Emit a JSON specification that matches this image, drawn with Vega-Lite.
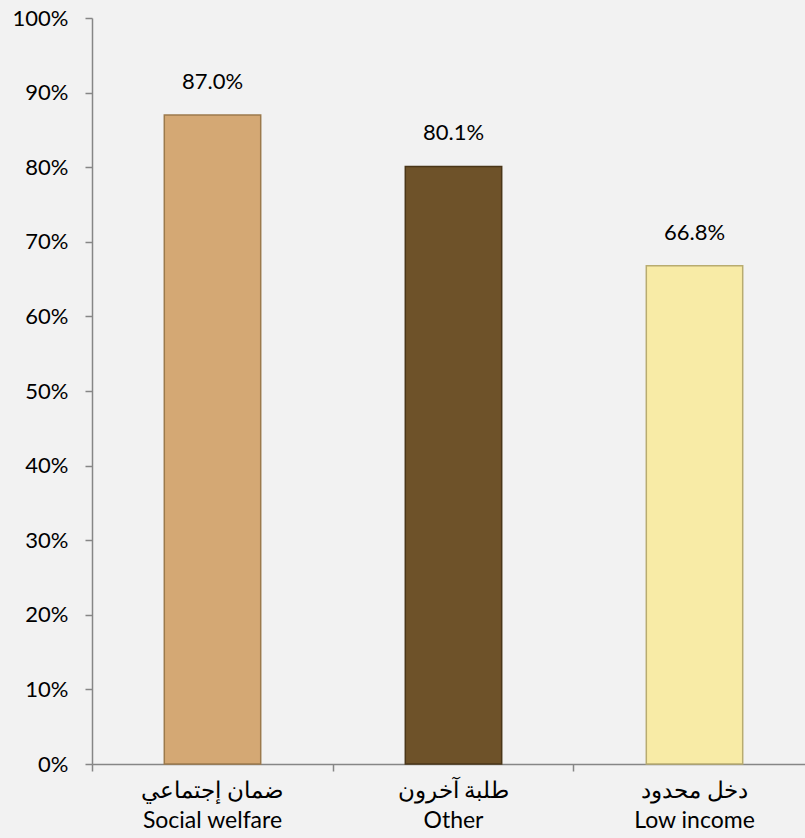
{
  "$schema": "https://vega.github.io/schema/vega-lite/v6.json",
  "autosize": "none",
  "padding": {"left": 92, "top": 18, "right": 0, "bottom": 74},
  "width": 723,
  "height": 746,
  "background": "#F2F2F2",
  "config": {
    "view": {"stroke": null},
    "font": "Lato"
  },
  "data": {
    "values": [
      {"category": "ضمان إجتماعي|Social welfare", "value": 0.87, "color": "#D4A874", "stroke": "#9C7A4C"},
      {"category": "طلبة آخرون|Other", "value": 0.801, "color": "#6E5229", "stroke": "#4A3618"},
      {"category": "دخل محدود|Low income", "value": 0.668, "color": "#F8EBA6", "stroke": "#B8AC70"}
    ]
  },
  "encoding": {
    "x": {
      "field": "category",
      "type": "nominal",
      "sort": null,
      "scale": {"paddingInner": 0.6, "paddingOuter": 0.3},
      "axis": {
        "title": null,
        "labelAngle": 0,
        "labelExpr": "split(datum.label, '|')",
        "labelFontSize": 23,
        "labelColor": "#000000",
        "labelLineHeight": 30,
        "labelPadding": 8,
        "labelFont": "Lato",
        "domainColor": "#868686",
        "tickColor": "#868686",
        "tickSize": 7,
        "bandPosition": -0.75,
        "domainWidth": 1.5,
        "tickWidth": 1.5
      }
    },
    "y": {
      "field": "value",
      "type": "quantitative",
      "scale": {"domain": [0, 1]},
      "axis": {
        "title": null,
        "values": [0, 0.1, 0.2, 0.3, 0.4, 0.5, 0.6, 0.7, 0.8, 0.9, 1],
        "format": ".0%",
        "grid": false,
        "labelFontSize": 22,
        "labelColor": "#000000",
        "labelPadding": 17,
        "domainColor": "#868686",
        "tickColor": "#868686",
        "tickSize": 7,
        "domainWidth": 1.5,
        "tickWidth": 1.5
      }
    }
  },
  "layer": [
    {
      "mark": {"type": "bar", "strokeWidth": 1.5},
      "encoding": {
        "color": {"field": "color", "type": "nominal", "scale": null},
        "stroke": {"field": "stroke", "type": "nominal", "scale": null}
      }
    },
    {
      "mark": {"type": "text", "dy": -33, "fontSize": 22, "color": "#000000", "font": "Lato"},
      "encoding": {
        "text": {"field": "value", "type": "quantitative", "format": ".1%"}
      }
    }
  ]
}
